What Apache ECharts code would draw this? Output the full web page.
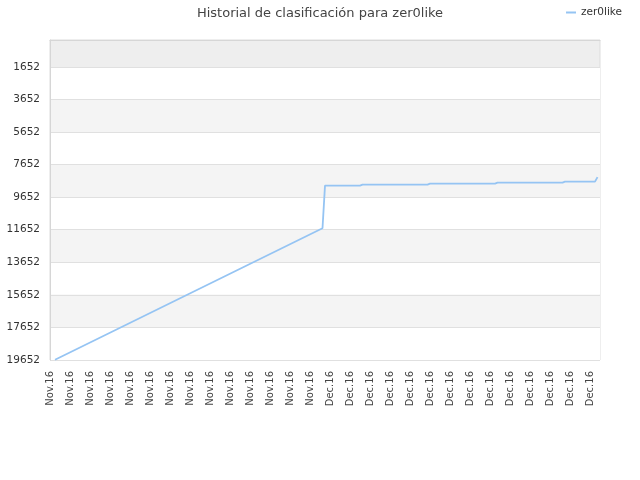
<!DOCTYPE html>
<html>
<head>
<meta charset="utf-8">
<script src="https://cdn.jsdelivr.net/npm/echarts@6/dist/echarts.min.js"></script>
<style>html,body{margin:0;padding:0;background:#fff}#c{width:640px;height:480px}</style>
</head>
<body>
<div id="c"></div>
<script>
// Category labels (one category per 2.5px step; Nov 2016 then Dec 2016)
var novCount = 112;
var decCount = 109;
var categories = Array(novCount).fill('Nov.16').concat(Array(decCount).fill('Dec.16'));
// Ranking points: [category index, rank]
var rankPoints = [
  [2, 19640],
  [109, 11560],
  [110, 8944],
  [124, 8944],
  [125, 8883],
  [151, 8883],
  [152, 8821],
  [178, 8821],
  [179, 8760],
  [205, 8760],
  [206, 8698],
  [218, 8698],
  [219, 8421]
];
var yTicks = [1652, 3652, 5652, 7652, 9652, 11652, 13652, 15652, 17652, 19652];
var seriesName = 'zer0like';
var titleText = 'Historial de clasificación para zer0like';

var chart = echarts.init(document.getElementById('c'));
chart.setOption({
  animation: false,
  title: {
    text: titleText,
    left: 'center',
    top: 2,
    textStyle: {fontFamily: 'DejaVu Sans', fontSize: 13, fontWeight: 'normal', color: '#444'}
  },
  legend: {
    data: [seriesName],
    right: 13,
    top: 2,
    icon: 'rect',
    itemWidth: 10,
    itemHeight: 2,
    itemGap: 8,
    textStyle: {fontFamily: 'DejaVu Sans', fontSize: 10.5, color: '#333'}
  },
  grid: {
    left: 50, right: 40, top: 40, bottom: 120,
    show: true,
    backgroundColor: '#eeeeee',
    borderColor: '#dddddd',
    borderWidth: 1
  },
  xAxis: {
    type: 'category',
    data: categories,
    boundaryGap: false,
    axisLine: {lineStyle: {color: '#d6d6d6'}},
    axisTick: {show: false},
    splitLine: {show: false},
    axisLabel: {
      interval: 7,
      rotate: 90,
      margin: 11,
      fontFamily: 'DejaVu Sans',
      fontSize: 10,
      color: '#444'
    }
  },
  yAxis: {
    type: 'value',
    inverse: true,
    min: 0,
    max: 19652,
    axisLine: {show: true, lineStyle: {color: '#d6d6d6'}},
    axisTick: {show: false, customValues: yTicks},
    axisLabel: {
      customValues: yTicks,
      formatter: function (v) { return String(v); },
      margin: 10,
      fontFamily: 'DejaVu Sans',
      fontSize: 10.5,
      color: '#333'
    },
    splitLine: {show: true, lineStyle: {color: '#e0e0e0'}},
    splitArea: {show: true, areaStyle: {color: ['#ffffff', '#f4f4f4']}}
  },
  series: [{
    name: seriesName,
    type: 'line',
    data: rankPoints,
    showSymbol: false,
    symbol: 'none',
    lineStyle: {color: '#95c4f3', width: 1.8},
    itemStyle: {color: '#95c4f3'}
  }]
});
</script>
</body>
</html>
